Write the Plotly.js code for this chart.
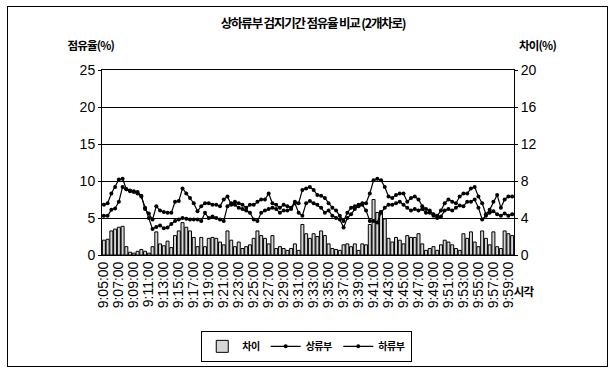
<!DOCTYPE html>
<html><head><meta charset="utf-8">
<script src="https://cdn.plot.ly/plotly-3.0.1.min.js"></script>
<style>
html,body{margin:0;padding:0;background:#fff;}
#wrap{position:relative;width:615px;height:374px;}
#chart{position:absolute;left:0;top:0;width:615px;height:374px;}
#frame{position:absolute;left:7px;top:6px;width:599px;height:359px;border:1px solid #000;pointer-events:none;}
#chart .gtitle{letter-spacing:-1.2px;}
#chart .annotation-text{letter-spacing:-0.8px;}
#chart .legendtext{letter-spacing:-0.5px;}
</style></head>
<body><div id="wrap"><div id="chart"></div><div id="frame"></div></div>
<script>
const times = [
"9:05:00","9:05:30","9:06:00","9:06:30","9:07:00","9:07:30","9:08:00","9:08:30","9:09:00","9:09:30",
"9:10:00","9:10:30","9:11:00","9:11:30","9:12:00","9:12:30","9:13:00","9:13:30","9:14:00","9:14:30",
"9:15:00","9:15:30","9:16:00","9:16:30","9:17:00","9:17:30","9:18:00","9:18:30","9:19:00","9:19:30",
"9:20:00","9:20:30","9:21:00","9:21:30","9:22:00","9:22:30","9:23:00","9:23:30","9:24:00","9:24:30",
"9:25:00","9:25:30","9:26:00","9:26:30","9:27:00","9:27:30","9:28:00","9:28:30","9:29:00","9:29:30",
"9:30:00","9:30:30","9:31:00","9:31:30","9:32:00","9:32:30","9:33:00","9:33:30","9:34:00","9:34:30",
"9:35:00","9:35:30","9:36:00","9:36:30","9:37:00","9:37:30","9:38:00","9:38:30","9:39:00","9:39:30",
"9:40:00","9:40:30","9:41:00","9:41:30","9:42:00","9:42:30","9:43:00","9:43:30","9:44:00","9:44:30",
"9:45:00","9:45:30","9:46:00","9:46:30","9:47:00","9:47:30","9:48:00","9:48:30","9:49:00","9:49:30",
"9:50:00","9:50:30","9:51:00","9:51:30","9:52:00","9:52:30","9:53:00","9:53:30","9:54:00","9:54:30",
"9:55:00","9:55:30","9:56:00","9:56:30","9:57:00","9:57:30","9:58:00","9:58:30","9:59:00","9:59:30"];

const tickLabels = ["9:05:00","9:07:00","9:09:00","9:11:00","9:13:00","9:15:00","9:17:00","9:19:00",
"9:21:00","9:23:00","9:25:00","9:27:00","9:29:00","9:31:00","9:33:00","9:35:00","9:37:00","9:39:00",
"9:41:00","9:43:00","9:45:00","9:47:00","9:49:00","9:51:00","9:53:00","9:55:00","9:57:00","9:59:00"];

const leftTicks = [0,5,10,15,20,25];
const rightTicks = [0,4,8,12,16,20];

// 상류부 점유율(%)
const upstream = [
6.8,7.0,8.3,9.2,10.2,10.3,8.9,8.7,8.6,8.5,
8.0,6.2,5.6,4.8,6.6,6.0,5.8,5.7,5.7,7.2,
7.3,9.0,8.3,7.7,7.0,5.9,6.6,7.0,7.0,6.8,
6.8,6.6,7.5,7.9,6.8,7.2,7.0,6.8,6.4,6.8,
6.8,7.2,7.5,7.5,8.3,7.0,6.8,6.4,6.8,6.6,
6.4,7.2,7.0,8.8,9.0,9.2,8.8,8.1,8.0,7.7,
7.0,6.4,6.0,5.3,4.6,5.7,6.4,6.6,6.8,7.0,
7.0,8.3,10.1,10.3,10.1,9.2,7.9,7.7,8.1,8.3,
8.3,7.2,7.7,7.9,7.5,6.6,6.2,6.0,5.5,5.3,
6.0,7.0,7.5,7.2,7.0,7.9,8.3,8.3,9.0,9.2,
7.9,7.0,5.5,6.1,7.2,8.1,6.4,7.5,7.9,7.9];

// 하류부 점유율(%)
const downstream = [
5.3,5.3,6.1,6.3,7.2,9.2,8.9,8.6,8.5,8.3,
7.9,6.4,5.0,3.5,3.8,4.0,3.6,3.7,4.2,4.6,
4.8,5.0,4.9,4.8,4.8,4.8,4.6,5.7,5.0,5.2,
5.0,4.8,4.6,6.6,7.0,6.8,6.4,6.2,6.0,5.7,
4.8,4.6,5.7,6.0,6.2,6.4,6.2,5.7,6.0,6.0,
6.2,7.0,5.7,5.3,7.0,7.3,7.0,6.8,6.4,5.7,
6.0,5.3,5.0,4.8,3.7,5.0,5.5,6.2,6.6,6.8,
6.0,4.6,4.6,4.4,5.7,6.4,6.8,6.8,7.0,7.2,
6.8,6.4,6.0,6.2,6.0,6.2,5.7,5.7,5.3,5.0,
5.2,6.0,6.2,6.0,6.4,6.7,6.6,7.2,7.2,7.5,
6.4,4.8,5.3,5.7,5.9,5.5,5.3,5.6,5.3,5.5];

// 차이(%)
const difference = [
1.6,1.7,2.6,2.8,3.0,3.1,0.9,0.3,0.2,0.4,
0.6,0.4,0.2,0.9,2.5,1.2,1.0,1.5,0.8,2.1,
2.6,3.5,3.0,2.6,1.9,0.9,1.9,0.9,1.8,1.9,
1.8,1.4,1.1,2.6,1.6,0.9,1.4,0.7,0.9,1.1,
1.8,2.6,2.1,1.8,1.2,2.1,0.7,0.9,0.7,0.5,
0.7,1.2,0.5,3.3,2.3,1.8,2.3,2.0,2.6,2.1,
1.2,0.7,0.6,0.5,1.1,1.2,0.9,1.2,0.5,1.2,
1.1,3.3,6.0,4.6,4.8,3.9,1.8,1.4,1.9,1.6,
1.2,2.1,1.9,1.9,2.3,1.2,0.5,0.7,0.9,0.5,
1.1,1.6,1.4,1.1,0.7,0.5,2.3,1.8,2.5,1.4,
0.9,2.6,1.8,1.1,2.5,0.9,0.7,2.6,2.3,2.1];

const FONT = "Liberation Sans, Arial, Noto Sans CJK KR, sans-serif";
const KFONT = "Noto Sans CJK KR, Liberation Sans, sans-serif";

const traces = [
 {type:'bar', name:'차이', x:times, y:difference, yaxis:'y',
  marker:{color:'#d6d6d6', line:{color:'#000', width:1}}},
 {type:'scatter', mode:'lines+markers', name:'상류부', x:times, y:upstream, yaxis:'y2',
  line:{color:'#000', width:1.2}, marker:{color:'#000', size:4}},
 {type:'scatter', mode:'lines+markers', name:'하류부', x:times, y:downstream, yaxis:'y2',
  line:{color:'#000', width:1.2}, marker:{color:'#000', size:4}}
];

const layout = {
 width:615, height:374,
 margin:{l:102, r:101, t:70, b:109},
 paper_bgcolor:'#fff', plot_bgcolor:'#fff',
 font:{family:FONT, color:'#000', size:14},
 bargap:0.2,
 showlegend:true,
 title:{text:'상하류부 검지기간 점유율 비교 (2개차로)', font:{family:KFONT, size:12.5, color:'#000', weight:'bold'},
  x:0.509, xanchor:'center', y:0.938, yanchor:'middle'},
 xaxis:{type:'category', range:[-0.5,109.5], tickvals:tickLabels, ticktext:tickLabels,
  tickangle:-90, tickfont:{size:14, family:FONT}, showline:true, linecolor:'#000', linewidth:1,
  mirror:true, showgrid:false, ticks:'', zeroline:false},
 yaxis:{range:[0,20], side:'right', tickvals:rightTicks, ticks:'outside', ticklen:3,
  tickcolor:'#000', showgrid:false, zeroline:false, showline:true, linecolor:'#000', tickfont:{size:14}},
 yaxis2:{range:[0,25], overlaying:'y', side:'left', tickvals:leftTicks, ticks:'outside',
  ticklen:3, tickcolor:'#000', showgrid:true, gridcolor:'#000', gridwidth:1, zeroline:false,
  showline:true, linecolor:'#000', tickfont:{size:14}},
 legend:{orientation:'h', x:0.497, xanchor:'center', y:-0.41, yanchor:'top',
  bordercolor:'#000', borderwidth:1, bgcolor:'#fff', font:{family:KFONT, size:10, weight:'bold'},
  itemwidth:30, tracegroupgap:0},
 annotations:[
  {text:'점유율(%)', xref:'paper', yref:'paper', x:-0.026, xanchor:'center', y:1.135, yanchor:'middle',
   showarrow:false, font:{family:KFONT, size:11.5, weight:'bold'}},
  {text:'차이(%)', xref:'paper', yref:'paper', x:1.058, xanchor:'center', y:1.135, yanchor:'middle',
   showarrow:false, font:{family:KFONT, size:11.5, weight:'bold'}},
  {text:'시각', xref:'paper', yref:'paper', x:0.992, xanchor:'left', y:-0.195, yanchor:'middle',
   showarrow:false, font:{family:KFONT, size:11.5, weight:'bold'}}
 ]
};
Plotly.newPlot('chart', traces, layout, {staticPlot:true});
</script></body></html>
